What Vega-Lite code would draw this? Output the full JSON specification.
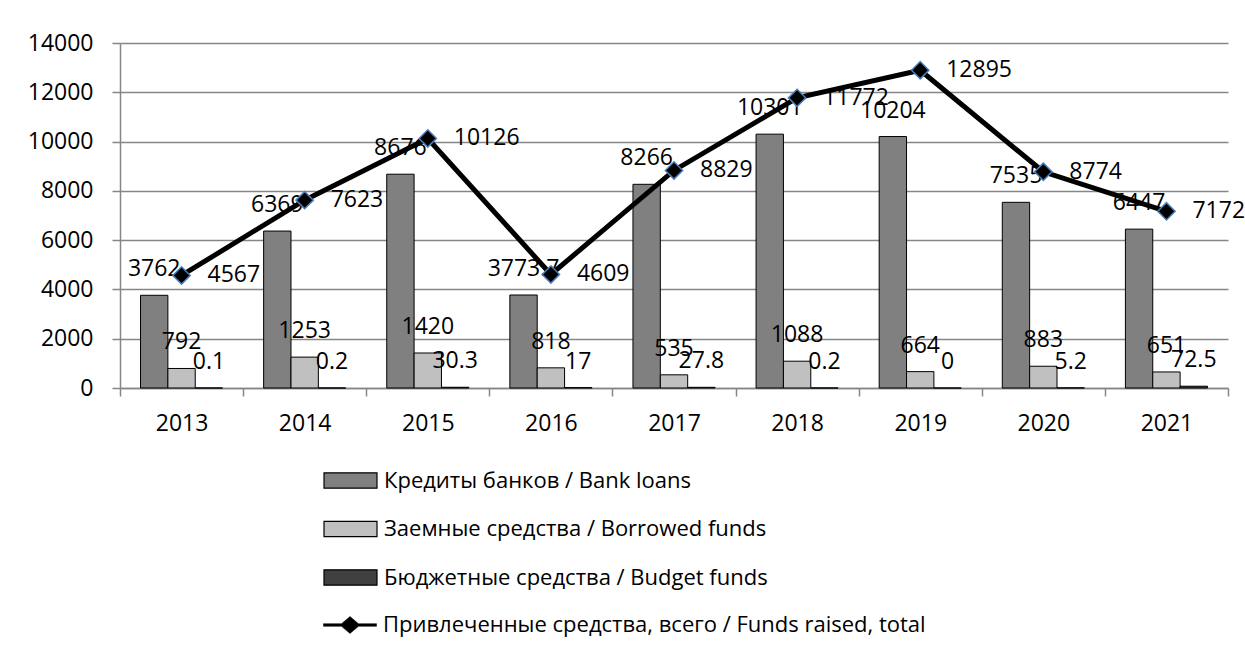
{
  "$schema": "https://vega.github.io/schema/vega-lite/v6.json",
  "width": 1108,
  "height": 345,
  "autosize": {"type": "none"},
  "padding": {"left": 120, "top": 43, "right": 17, "bottom": 264},
  "background": "white",
  "config": {"view": {"stroke": null}, "font": "Open Sans"},
  "datasets": {
    "bars": [
      {"year": "2013", "series": "Кредиты банков / Bank loans", "value": 3762, "label": "3762"},
      {"year": "2013", "series": "Заемные средства / Borrowed funds", "value": 792, "label": "792"},
      {"year": "2013", "series": "Бюджетные средства / Budget funds", "value": 0.1, "label": "0.1"},
      {"year": "2014", "series": "Кредиты банков / Bank loans", "value": 6369, "label": "6369"},
      {"year": "2014", "series": "Заемные средства / Borrowed funds", "value": 1253, "label": "1253"},
      {"year": "2014", "series": "Бюджетные средства / Budget funds", "value": 0.2, "label": "0.2"},
      {"year": "2015", "series": "Кредиты банков / Bank loans", "value": 8676, "label": "8676"},
      {"year": "2015", "series": "Заемные средства / Borrowed funds", "value": 1420, "label": "1420"},
      {"year": "2015", "series": "Бюджетные средства / Budget funds", "value": 30.3, "label": "30.3"},
      {"year": "2016", "series": "Кредиты банков / Bank loans", "value": 3773.7, "label": "3773.7"},
      {"year": "2016", "series": "Заемные средства / Borrowed funds", "value": 818, "label": "818"},
      {"year": "2016", "series": "Бюджетные средства / Budget funds", "value": 17, "label": "17"},
      {"year": "2017", "series": "Кредиты банков / Bank loans", "value": 8266, "label": "8266"},
      {"year": "2017", "series": "Заемные средства / Borrowed funds", "value": 535, "label": "535"},
      {"year": "2017", "series": "Бюджетные средства / Budget funds", "value": 27.8, "label": "27.8"},
      {"year": "2018", "series": "Кредиты банков / Bank loans", "value": 10301, "label": "10301"},
      {"year": "2018", "series": "Заемные средства / Borrowed funds", "value": 1088, "label": "1088"},
      {"year": "2018", "series": "Бюджетные средства / Budget funds", "value": 0.2, "label": "0.2"},
      {"year": "2019", "series": "Кредиты банков / Bank loans", "value": 10204, "label": "10204"},
      {"year": "2019", "series": "Заемные средства / Borrowed funds", "value": 664, "label": "664"},
      {"year": "2019", "series": "Бюджетные средства / Budget funds", "value": 0, "label": "0"},
      {"year": "2020", "series": "Кредиты банков / Bank loans", "value": 7535, "label": "7535"},
      {"year": "2020", "series": "Заемные средства / Borrowed funds", "value": 883, "label": "883"},
      {"year": "2020", "series": "Бюджетные средства / Budget funds", "value": 5.2, "label": "5.2"},
      {"year": "2021", "series": "Кредиты банков / Bank loans", "value": 6447, "label": "6447"},
      {"year": "2021", "series": "Заемные средства / Borrowed funds", "value": 651, "label": "651"},
      {"year": "2021", "series": "Бюджетные средства / Budget funds", "value": 72.5, "label": "72.5"}
    ],
    "total": [
      {"year": "2013", "total": 4567},
      {"year": "2014", "total": 7623},
      {"year": "2015", "total": 10126},
      {"year": "2016", "total": 4609},
      {"year": "2017", "total": 8829},
      {"year": "2018", "total": 11772},
      {"year": "2019", "total": 12895},
      {"year": "2020", "total": 8774},
      {"year": "2021", "total": 7172}
    ]
  },
  "layer": [
    {
      "data": {"name": "bars"},
      "mark": {"type": "bar", "stroke": "black", "strokeWidth": 1},
      "encoding": {
        "x": {
          "field": "year", "type": "nominal",
          "scale": {"paddingInner": 0, "paddingOuter": 0},
          "axis": {
            "title": null, "labelAngle": 0, "tickBand": "extent",
            "domainColor": "#868686", "domainWidth": 1.5,
            "tickColor": "#868686", "tickWidth": 1.5, "tickSize": 8,
            "labelFont": "Open Sans", "labelFontSize": 23, "labelColor": "black",
            "labelPadding": 16, "grid": false
          }
        },
        "xOffset": {
          "field": "series", "type": "nominal",
          "sort": ["Кредиты банков / Bank loans", "Заемные средства / Borrowed funds", "Бюджетные средства / Budget funds"],
          "scale": {"paddingInner": 0, "paddingOuter": 0.75}
        },
        "y": {
          "field": "value", "type": "quantitative",
          "scale": {"domain": [0, 14000], "nice": false},
          "axis": {
            "title": null, "values": [0, 2000, 4000, 6000, 8000, 10000, 12000, 14000],
            "format": "d", "grid": true, "gridColor": "#868686", "gridWidth": 1.5,
            "domainColor": "#868686", "domainWidth": 1.5,
            "tickColor": "#868686", "tickWidth": 1.5, "tickSize": 8,
            "labelFont": "Open Sans", "labelFontSize": 23, "labelColor": "black",
            "labelPadding": 19
          }
        },
        "fill": {
          "field": "series", "type": "nominal",
          "scale": {
            "domain": ["Кредиты банков / Bank loans", "Заемные средства / Borrowed funds", "Бюджетные средства / Budget funds"],
            "range": ["#808080", "#c0c0c0", "#404040"]
          },
          "legend": {
            "title": null, "orient": "none", "legendX": 203, "legendY": 410,
            "direction": "vertical", "padding": 0,
            "symbolType": "M-1,-0.29H1V0.29H-1Z", "symbolSize": 2809,
            "symbolStrokeColor": "black", "symbolStrokeWidth": 1.2,
            "labelFont": "Open Sans", "labelFontSize": 22, "labelColor": "black",
            "labelOffset": 6, "labelLimit": 1000, "rowPadding": 9.5
          }
        }
      }
    },
    {
      "data": {"name": "bars"},
      "mark": {"type": "text", "fontSize": 23, "dy": -26, "baseline": "middle", "align": "center", "color": "black", "font": "Open Sans"},
      "encoding": {
        "x": {"field": "year", "type": "nominal"},
        "xOffset": {
          "field": "series", "type": "nominal",
          "sort": ["Кредиты банков / Bank loans", "Заемные средства / Borrowed funds", "Бюджетные средства / Budget funds"]
        },
        "y": {"field": "value", "type": "quantitative"},
        "text": {"field": "label"}
      }
    },
    {
      "data": {"name": "total"},
      "mark": {"type": "line", "strokeWidth": 5},
      "encoding": {
        "x": {"field": "year", "type": "nominal"},
        "y": {"field": "total", "type": "quantitative"},
        "stroke": {
          "datum": "Привлеченные средства, всего / Funds raised, total",
          "type": "nominal",
          "scale": {"range": ["black"]},
          "legend": {
            "title": null, "orient": "none", "legendX": 203, "legendY": 555,
            "padding": 0,
            "symbolType": "M-1,-0.05H-0.32L0,-0.32L0.32,-0.05H1V0.05H0.32L0,0.32L-0.32,0.05H-1Z",
            "symbolSize": 2809, "symbolFillColor": "black", "symbolStrokeColor": "black", "symbolStrokeWidth": 0.5,
            "labelFont": "Open Sans", "labelFontSize": 22, "labelColor": "black",
            "labelOffset": 6, "labelLimit": 1000
          }
        }
      }
    },
    {
      "data": {"name": "total"},
      "mark": {"type": "point", "shape": "diamond", "size": 300, "filled": true, "fill": "black", "stroke": "#4a7ebb", "strokeWidth": 1.5, "opacity": 1},
      "encoding": {
        "x": {"field": "year", "type": "nominal"},
        "y": {"field": "total", "type": "quantitative"}
      }
    },
    {
      "data": {"name": "total"},
      "mark": {"type": "text", "fontSize": 23, "dx": 26, "baseline": "middle", "align": "left", "color": "black", "font": "Open Sans"},
      "encoding": {
        "x": {"field": "year", "type": "nominal"},
        "y": {"field": "total", "type": "quantitative"},
        "text": {"field": "total", "type": "quantitative", "format": "d"}
      }
    }
  ]
}
